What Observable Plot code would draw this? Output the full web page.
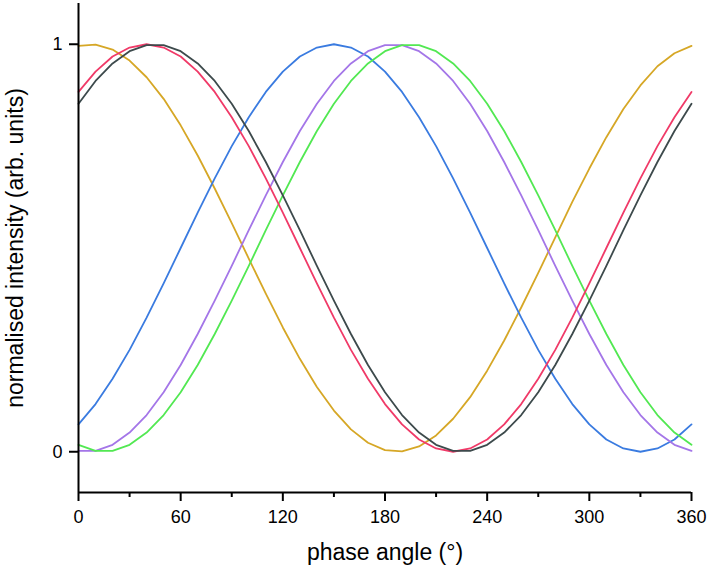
<!DOCTYPE html>
<html><head><meta charset="utf-8">
<script src="https://cdn.jsdelivr.net/npm/d3@7"></script>
<script src="https://cdn.jsdelivr.net/npm/@observablehq/plot@0.6"></script>
<style>
body{margin:0;background:#fff}
#chart{width:708px;height:570px}
</style>
</head><body><div id="chart"></div>
<script>
const angles = [0,10,20,30,40,50,60,70,80,90,100,110,120,130,140,150,160,170,180,190,200,210,220,230,240,250,260,270,280,290,300,310,320,330,340,350,360];

const series1 = [0.996,0.999,0.987,0.960,0.919,0.866,0.801,0.727,0.646,0.561,0.474,0.388,0.305,0.228,0.159,0.101,0.055,0.022,0.004,0.001,0.013,0.040,0.081,0.134,0.199,0.273,0.354,0.439,0.526,0.613,0.695,0.772,0.841,0.899,0.946,0.978,0.996];
const series2 = [0.067,0.117,0.179,0.250,0.329,0.413,0.500,0.587,0.671,0.750,0.821,0.883,0.933,0.970,0.992,1.000,0.992,0.970,0.933,0.883,0.821,0.750,0.671,0.587,0.500,0.413,0.329,0.250,0.179,0.117,0.067,0.030,0.008,0.000,0.008,0.030,0.067];
const series3 = [0.002,0.002,0.017,0.047,0.090,0.146,0.213,0.289,0.371,0.456,0.544,0.629,0.711,0.787,0.854,0.910,0.953,0.983,0.998,0.998,0.983,0.953,0.910,0.854,0.787,0.711,0.629,0.544,0.456,0.371,0.289,0.213,0.146,0.090,0.047,0.017,0.002];
const series4 = [0.017,0.002,0.002,0.017,0.047,0.090,0.146,0.213,0.289,0.371,0.456,0.544,0.629,0.711,0.787,0.854,0.910,0.953,0.983,0.998,0.998,0.983,0.953,0.910,0.854,0.787,0.711,0.629,0.544,0.456,0.371,0.289,0.213,0.146,0.090,0.047,0.017];
const series5 = [0.883,0.933,0.970,0.992,1.000,0.992,0.970,0.933,0.883,0.821,0.750,0.671,0.587,0.500,0.413,0.329,0.250,0.179,0.117,0.067,0.030,0.008,0.000,0.008,0.030,0.067,0.117,0.179,0.250,0.329,0.413,0.500,0.587,0.671,0.750,0.821,0.883];
const series6 = [0.854,0.910,0.953,0.983,0.998,0.998,0.983,0.953,0.910,0.854,0.787,0.711,0.629,0.544,0.456,0.371,0.289,0.213,0.146,0.090,0.047,0.017,0.002,0.002,0.017,0.047,0.090,0.146,0.213,0.289,0.371,0.456,0.544,0.629,0.711,0.787,0.854];

const seriesNames = ["S1","S2","S3","S4","S5","S6"];
const seriesColors = ["#d6a726","#3a7be0","#a476e8","#52e852","#f03a68","#3d4a4c"];
const xTicks = [0,60,120,180,240,300,360];
const xMinorTicks = [30,90,150,210,270,330];
const yTicks = [0,1];
const xLabel = "phase angle (°)";
const yLabel = "normalised intensity (arb. units)";

const seriesValues = [series1, series2, series3, series4, series5, series6];
const rows = seriesNames.flatMap((s, i) => angles.map((a, j) => ({angle: a, intensity: seriesValues[i][j], series: s})));

const font = "'Liberation Sans', Arial, Helvetica, sans-serif";

const chart = Plot.plot({
  width: 708,
  height: 570,
  marginLeft: 78,
  marginRight: 17,
  marginTop: 3,
  marginBottom: 78,
  style: {fontFamily: font, background: "#fff", color: "#000"},
  x: {domain: [0, 360]},
  y: {domain: [-0.1, 1.1]},
  color: {type: "ordinal", domain: seriesNames, range: seriesColors},
  marks: [
    Plot.line(rows, {x: "angle", y: "intensity", z: "series", stroke: "series", strokeWidth: 1.8}),
    Plot.ruleY([-0.1], {stroke: "#000", strokeWidth: 2}),
    Plot.ruleX([0], {stroke: "#000", strokeWidth: 2}),
    Plot.axisX({ticks: xTicks, tickSize: 9, tickPadding: 9, fontSize: 18, label: null, strokeWidth: 2, tickFormat: d => String(d)}),
    Plot.axisX({ticks: xMinorTicks, tickSize: 5, text: null, label: null, strokeWidth: 2}),
    Plot.axisY({ticks: yTicks, tickSize: 9, tickPadding: 7, fontSize: 18, label: null, strokeWidth: 2, tickFormat: d => String(d)}),
    Plot.text([xLabel], {frameAnchor: "bottom", dy: 67, fontSize: 23, textAnchor: "middle", fill: "#000"}),
    Plot.text([yLabel], {frameAnchor: "left", dx: -63, rotate: -90, fontSize: 23, textAnchor: "middle", fill: "#000"})
  ]
});
document.getElementById("chart").appendChild(chart);
</script>
</body></html>
